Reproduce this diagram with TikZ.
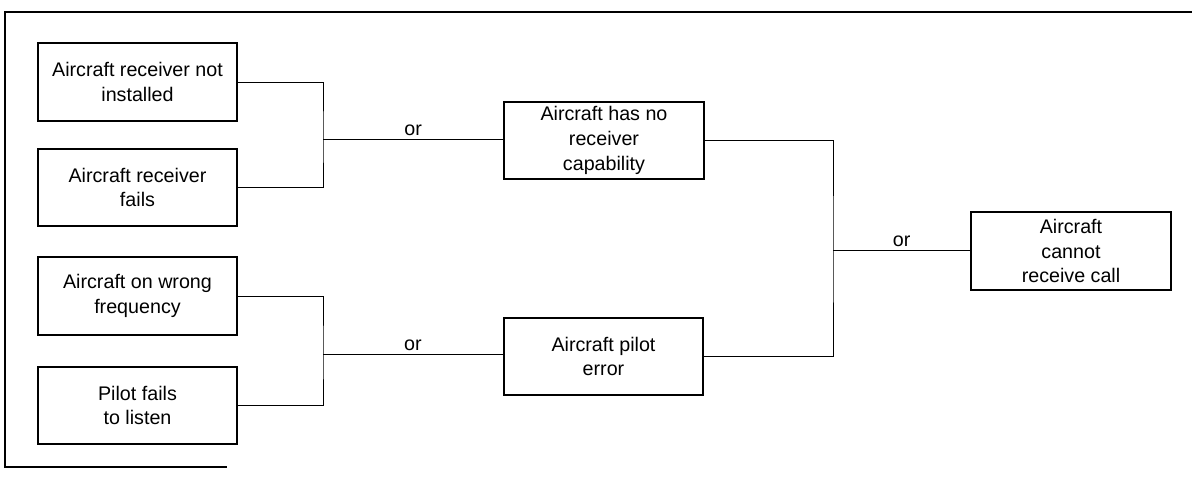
\documentclass[tikz,border=0pt]{standalone}
\usepackage{fontspec}
\setmainfont{Liberation Sans}
\usetikzlibrary{calc,positioning}
\tikzset{
  cause/.style={rectangle,draw=black,line width=1.3pt,minimum width=4.98cm,
    minimum height=1.93cm,inner sep=2pt,font=\fontsize{14}{17.5}\selectfont,
    align=center},
  link/.style={line width=0.7pt,black},
  gatelabel/.style={font=\fontsize{14}{17.5}\selectfont,above,inner sep=2pt},
  frameline/.style={line width=1pt,black}
}

\begin{document}
\begin{tikzpicture}[x=0.025cm,y=-0.025cm]
  \useasboundingbox (0,0) rectangle (1192,477);
  \draw[frameline] (1192,12) -- (5,12) -- (5,467) -- (227,467);

  \node[cause] (rxmissing) at (137.5,82)    {Aircraft receiver not\\installed};
  \node[cause] (rxfails)   at (137.5,187.5) {Aircraft receiver\\fails};
  \node[cause] (wrongfreq) at (137.5,296)   {Aircraft on wrong\\frequency};
  \node[cause] (nolisten)  at (137.5,405.5) {Pilot fails\\to listen};
  \node[cause] (nocap)     at (604,140.5)   {Aircraft has no\\receiver\\capability};
  \node[cause] (piloterr)  at (603.5,356.5) {Aircraft pilot\\error};
  \node[cause] (nocall)    at (1071,251)    {Aircraft\\cannot\\receive call};

  \coordinate (orcap)   at (323,139);
  \coordinate (orpilot) at (323,354);
  \coordinate (orcall)  at (833,250);

  \draw[link] (rxmissing.east) -| (orcap) |- (rxfails.east);
  \draw[link] (orcap) -- node[gatelabel] {or} (orcap -| nocap.west);
  \draw[link] (wrongfreq.east) -| (orpilot) |- (nolisten.east);
  \draw[link] (orpilot) -- node[gatelabel] {or} (orpilot -| piloterr.west);
  \draw[link] (nocap.east) -| (orcall) |- (piloterr.east);
  \draw[link] (orcall) -- node[gatelabel] {or} (orcall -| nocall.west);
\end{tikzpicture}
\end{document}
